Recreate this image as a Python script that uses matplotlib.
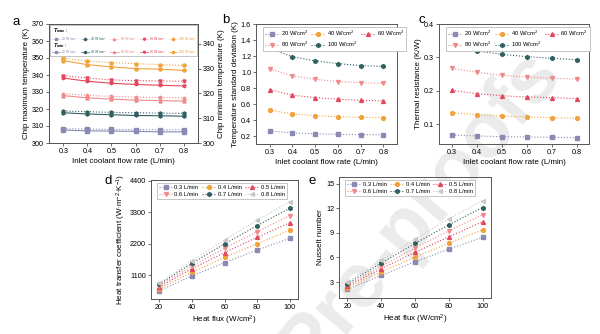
import matplotlib
matplotlib.use("Agg")
import matplotlib.pyplot as plt
from matplotlib.lines import Line2D
from matplotlib.patches import Rectangle

plt.rcParams['font.family'] = ['Liberation Sans', 'DejaVu Sans']
plt.rcParams['mathtext.fontset'] = 'custom'
plt.rcParams['mathtext.rm'] = 'Liberation Sans'
plt.rcParams['mathtext.it'] = 'Liberation Sans:italic'
plt.rcParams['mathtext.bf'] = 'Liberation Sans:bold:italic'

# ---------------- data ----------------
flow = [0.3, 0.4, 0.5, 0.6, 0.7, 0.8]
flux = [20, 40, 60, 80, 100]
flux_labels = ['20 W/cm$^2$', '40 W/cm$^2$', '60 W/cm$^2$', '80 W/cm$^2$', '100 W/cm$^2$']
flow_labels = ['0.3 L/min', '0.4 L/min', '0.5 L/min', '0.6 L/min', '0.7 L/min', '0.8 L/min']

# chip maximum temperature (K), per heat flux
tmax = {
    20: [308.4, 308.2, 308.0, 307.8, 307.8, 307.8],
    40: [318.8, 318.4, 318.0, 317.8, 317.6, 317.4],
    60: [329.0, 328.0, 327.4, 327.0, 326.8, 326.6],
    80: [339.6, 338.2, 337.1, 336.7, 336.5, 336.3],
    100: [349.8, 348.2, 347.3, 346.7, 346.1, 345.7],
}
# chip minimum temperature (K), per heat flux
tmin = {
    20: [305.2, 304.9, 304.8, 304.7, 304.5, 304.5],
    40: [312.2, 311.7, 311.4, 311.1, 311.0, 310.8],
    60: [319.1, 318.2, 317.7, 317.3, 317.1, 316.9],
    80: [326.2, 324.9, 324.1, 323.6, 323.3, 323.0],
    100: [333.2, 331.6, 330.7, 330.0, 329.8, 329.3],
}
# temperature standard deviation (K)
tstd = {
    20: [0.263, 0.237, 0.230, 0.220, 0.217, 0.215],
    40: [0.525, 0.475, 0.455, 0.440, 0.433, 0.430],
    60: [0.780, 0.710, 0.680, 0.660, 0.645, 0.640],
    80: [1.040, 0.950, 0.910, 0.880, 0.867, 0.858],
    100: [1.296, 1.190, 1.140, 1.105, 1.080, 1.070],
}
# thermal resistance (K/W)
rth = {
    20: [0.067, 0.064, 0.062, 0.061, 0.060, 0.059],
    40: [0.134, 0.128, 0.124, 0.121, 0.119, 0.118],
    60: [0.201, 0.191, 0.185, 0.181, 0.179, 0.176],
    80: [0.267, 0.255, 0.246, 0.241, 0.237, 0.235],
    100: [0.335, 0.319, 0.309, 0.302, 0.297, 0.293],
}
# heat transfer coefficient (W m-2 K-1), per flow rate
htc = {
    0.3: [550, 1065, 1533, 1978, 2387],
    0.4: [620, 1193, 1720, 2200, 2668],
    0.5: [679, 1322, 1884, 2422, 2937],
    0.6: [725, 1416, 2036, 2621, 3183],
    0.7: [772, 1510, 2188, 2832, 3440],
    0.8: [819, 1604, 2329, 3019, 3674],
}
# Nusselt number, per flow rate
nu = {
    0.3: [2.10, 3.81, 5.47, 7.01, 8.43],
    0.4: [2.30, 4.22, 6.04, 7.74, 9.36],
    0.5: [2.50, 4.62, 6.61, 8.51, 10.34],
    0.6: [2.60, 4.95, 7.14, 9.24, 11.19],
    0.7: [2.80, 5.31, 7.70, 9.97, 12.08],
    0.8: [3.00, 5.64, 8.23, 10.70, 12.93],
}

# ---------------- styles ----------------
PURPLE = '#8a8bb4'
ORANGE = '#f2a33c'
RED = '#e4475c'
SALMON = '#f08b8b'
TEAL = '#2f5f62'
PALE = '#c8c8c8'

flux_colors = {20: PURPLE, 40: ORANGE, 60: RED, 80: SALMON, 100: TEAL}
flux_markers = {20: 's', 40: 'o', 60: '^', 80: 'v', 100: 'h'}
a_colors = {20: PURPLE, 40: TEAL, 60: SALMON, 80: RED, 100: ORANGE}
a_markers = {20: 's', 40: 'h', 60: '^', 80: 'v', 100: 'o'}
flow_colors = {0.3: PURPLE, 0.4: ORANGE, 0.5: RED, 0.6: SALMON, 0.7: TEAL, 0.8: PALE}
flow_markers = {0.3: 's', 0.4: 'o', 0.5: '^', 0.6: 'v', 0.7: 'h', 0.8: '<'}

TICK = 5.2
LAB = 5.8
LEG = 4.2
SPINE = '#555555'

fig = plt.figure(figsize=(6.0, 3.34), dpi=100)

# watermark behind the panels
fig.text(0.70, 0.37, 'Pre-proofs', fontsize=56, fontweight='bold', color='#ebebeb',
         rotation=50, ha='center', va='center', zorder=-10)


def box(rect):
    x0, x1, ytop, ybot = rect
    return [x0 / 600, 1 - ybot / 334, (x1 - x0) / 600, (ybot - ytop) / 334]


def style(ax):
    ax.set_facecolor('none')
    for s in ax.spines.values():
        s.set_color(SPINE)
        s.set_linewidth(0.7)
    ax.tick_params(labelsize=TICK, length=2, width=0.6, pad=1.5, color=SPINE)


def rowwise(items, ncol):
    # reorder so that a column-filled legend reads row by row
    rows = [items[i:i + ncol] for i in range(0, len(items), ncol)]
    out = []
    for c in range(ncol):
        for r in rows:
            if c < len(r):
                out.append(r[c])
    return out


def legend(ax, anchor=(0.03, 0.985)):
    h, l = ax.get_legend_handles_labels()
    leg = ax.legend(rowwise(h, 3), rowwise(l, 3), loc='upper left', bbox_to_anchor=anchor,
                    ncol=3, fontsize=LEG, frameon=True, fancybox=False,
                    edgecolor='#bbbbbb', framealpha=1, borderpad=0.35,
                    labelspacing=0.3, handlelength=2.4, handletextpad=0.3,
                    columnspacing=0.6, borderaxespad=0.2)
    leg.get_frame().set_linewidth(0.6)
    return leg


# ---------------- panel a ----------------
axa = fig.add_axes(box((49, 198, 24, 143)))
axa2 = axa.twinx()
style(axa)
style(axa2)
for q in flux:
    c = a_colors[q]
    m = a_markers[q]
    axa.errorbar(flow, tmax[q], yerr=0.6, color=c, marker=m, ms=2.2, ls=':', lw=0.8,
                 elinewidth=0.5, capsize=1.3, capthick=0.5)
    axa2.errorbar(flow, tmin[q], yerr=0.4, color=c, marker=m, ms=2.2, ls='-', lw=0.8,
                  elinewidth=0.5, capsize=1.3, capthick=0.5)
axa.set_xlim(0.24, 0.86)
axa.set_ylim(300, 370)
axa.set_yticks(range(300, 371, 10))
axa2.set_ylim(300, 348)
axa2.set_yticks(range(300, 341, 10))
axa.set_xticks(flow)
axa.set_xlabel('Inlet coolant flow rate (L/min)', fontsize=LAB, labelpad=2)
axa.set_ylabel('Chip maximum temperature (K)', fontsize=LAB, labelpad=1.5)
axa2.set_ylabel('Chip minimum temperature (K)', fontsize=LAB, labelpad=2)

# legend block of panel a: two rows (maximum / minimum temperature)
tr = axa2.transAxes
axa2.add_patch(Rectangle((0.008, 0.735), 0.984, 0.258, transform=tr,
                         facecolor='white', edgecolor='#bbbbbb', lw=0.6, zorder=5))
for title, ty, ry, ls in [('$\\mathbf{T_{max}}$ :', 0.945, 0.875, ':'),
                          ('$\\mathbf{T_{min}}$ :', 0.82, 0.765, '-')]:
    axa2.text(0.025, ty, title, transform=tr, fontsize=4.0, ha='left', va='center', zorder=6)
    for i, (q, lab) in enumerate(zip(flux, flux_labels)):
        x0 = 0.02 + i * 0.196
        axa2.add_line(Line2D([x0, x0 + 0.055], [ry, ry], transform=tr, color=a_colors[q],
                             ls=ls, lw=0.5, zorder=6))
        axa2.add_line(Line2D([x0 + 0.0275], [ry], transform=tr, color=a_colors[q],
                             marker=a_markers[q], ms=1.6, ls='none', zorder=6))
        axa2.text(x0 + 0.062, ry, lab, transform=tr, fontsize=2.5, color=a_colors[q],
                  ha='left', va='center', zorder=6)

# ---------------- panel b ----------------
axb = fig.add_axes(box((256, 397, 24, 144)))
style(axb)
for q, lab in zip(flux, flux_labels):
    axb.plot(flow, tstd[q], color=flux_colors[q], marker=flux_markers[q], ms=2.8,
             ls=':', lw=0.8, label=lab)
axb.set_xlim(0.24, 0.86)
axb.set_ylim(0.1, 1.6)
axb.set_yticks([0.2, 0.4, 0.6, 0.8, 1.0, 1.2, 1.4, 1.6])
axb.set_xticks(flow)
axb.set_xlabel('Inlet coolant flow rate (L/min)', fontsize=LAB, labelpad=2)
axb.set_ylabel('Temperature standard deviation (K)', fontsize=LAB, labelpad=1.5)
legend(axb, anchor=(0.04, 0.985))

# ---------------- panel c ----------------
axc = fig.add_axes(box((439, 589, 24, 144)))
style(axc)
for q, lab in zip(flux, flux_labels):
    axc.plot(flow, rth[q], color=flux_colors[q], marker=flux_markers[q], ms=2.8,
             ls=':', lw=0.8, label=lab)
axc.set_xlim(0.248, 0.848)
axc.set_ylim(0.04, 0.4)
axc.set_yticks([0.1, 0.2, 0.3, 0.4])
axc.set_xticks(flow)
axc.set_xlabel('Inlet coolant flow rate (L/min)', fontsize=LAB, labelpad=2)
axc.set_ylabel('Thermal resistance (K/W)', fontsize=LAB, labelpad=1.5)
legend(axc, anchor=(0.04, 0.985))

# ---------------- panel d ----------------
axd = fig.add_axes(box((151, 298, 180, 299)))
style(axd)
for v, lab in zip(flow, flow_labels):
    axd.plot(flux, htc[v], color=flow_colors[v], marker=flow_markers[v], ms=2.8,
             ls=':', lw=0.8, label=lab)
axd.set_xlim(15, 105)
axd.set_ylim(260, 4430)
axd.set_xticks(flux)
axd.set_yticks([1100, 2200, 3300, 4400])
axd.set_xlabel('Heat flux (W/cm$^2$)', fontsize=LAB, labelpad=2)
axd.set_ylabel('Heat transfer coefficient (W$\\cdot$m$^{-2}$$\\cdot$K$^{-1}$)',
               fontsize=LAB, labelpad=1.5)
legend(axd, anchor=(0.03, 0.985))

# ---------------- panel e ----------------
axe = fig.add_axes(box((339, 491, 177, 298)))
style(axe)
for v, lab in zip(flow, flow_labels):
    axe.plot(flux, nu[v], color=flow_colors[v], marker=flow_markers[v], ms=2.8,
             ls=':', lw=0.8, label=lab)
axe.set_xlim(15, 105)
axe.set_ylim(1.05, 15.8)
axe.set_xticks(flux)
axe.set_yticks([3, 6, 9, 12, 15])
axe.set_xlabel('Heat flux (W/cm$^2$)', fontsize=LAB, labelpad=2)
axe.set_ylabel('Nusselt number', fontsize=LAB, labelpad=1.5)
legend(axe, anchor=(0.03, 0.985))

# panel letters
for letter, (px, py) in zip('abcde', [(16, 22), (226, 20), (422, 20), (108, 181), (312, 181)]):
    fig.text(px / 600, 1 - py / 334, letter, fontsize=9.5, ha='center', va='center')

fig.savefig('out.png', dpi=100)
